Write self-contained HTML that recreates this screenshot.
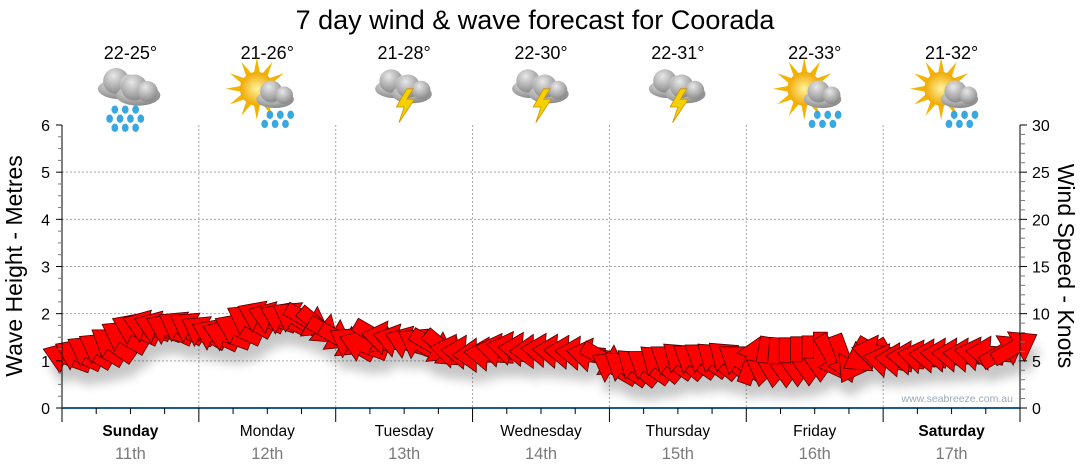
<!DOCTYPE html>
<html><head><meta charset="utf-8"><style>
body{margin:0;background:#fff;width:1080px;height:475px;overflow:hidden;font-family:"Liberation Sans",sans-serif}
svg{display:block}
</style></head><body>
<svg id="chart" width="1080" height="475">
<defs>
<filter id="blur" x="-50%" y="-50%" width="200%" height="200%"><feGaussianBlur stdDeviation="5"/></filter>
<radialGradient id="cloudG" cx="40%" cy="30%" r="70%"><stop offset="0" stop-color="#e8e8e8"/><stop offset="1" stop-color="#8a8a8a"/></radialGradient>
<radialGradient id="sunG" cx="50%" cy="50%" r="50%"><stop offset="0" stop-color="#fff3a0"/><stop offset="1" stop-color="#f0a800"/></radialGradient>
</defs>
<text x="535" y="29" text-anchor="middle" font-size="27" fill="#000">7 day wind &amp; wave forecast for Coorada</text>
<g id="grid"></g>
<g id="header"></g>
<g id="shadow" filter="url(#blur)" opacity="0.22" transform="translate(4,14)"></g>
<g id="arrows"></g>
<g id="axes"></g>
<text x="1013" y="402" text-anchor="end" font-size="10.5" fill="#9aaabb">www.seabreeze.com.au</text>
<text transform="translate(22,266) rotate(-90)" text-anchor="middle" font-size="23" fill="#000">Wave Height - Metres</text>
<text transform="translate(1058,266) rotate(90)" text-anchor="middle" font-size="23" fill="#000">Wind Speed - Knots</text>
</svg>
<script>
const days=["Sunday","Monday","Tuesday","Wednesday","Thursday","Friday","Saturday"];
const dates=["11th","12th","13th","14th","15th","16th","17th"];
const boldDays=[true,false,false,false,false,false,true];
const temps=["22-25°","21-26°","21-28°","22-30°","22-31°","22-33°","21-32°"];
const icons=["rain","sunrain","storm","storm","storm","sunrain","sunshower"];
const leftTicks=[0,1,2,3,4,5,6];
const rightTicks=[0,5,10,15,20,25,30];
const windKnots=[5.3,5.6,5.9,6.2,6.7,7.5,8.3,8.6,8.5,8.3,8.5,8.4,
8.0,7.7,7.7,8.3,9.2,9.6,9.5,9.4,9.5,9.3,8.7,7.9,
7.2,6.8,6.6,7.6,7.4,7.1,6.9,6.7,6.6,6.3,6.0,5.9,
5.6,5.7,6.1,6.3,6.2,6.0,6.1,6.0,5.9,5.8,5.6,5.2,
4.2,4.2,4.3,4.4,4.7,4.9,5.0,5.0,5.1,5.0,5.1,4.9,
5.0,5.0,4.9,4.9,5.0,5.1,5.5,5.4,5.3,5.1,5.6,5.9,
5.0,5.1,5.3,5.4,5.5,5.6,5.6,5.6,5.7,5.8,6.0,6.4];
const windDir=[110,115,120,120,125,120,115,110,110,115,120,120,
120,115,110,115,120,115,110,115,120,300,310,300,
300,120,110,300,100,105,110,120,300,310,100,95,
90,95,100,100,95,90,95,95,95,95,100,300,
120,125,130,125,130,125,130,125,125,130,130,125,
200,10,5,0,0,0,0,330,340,30,60,100,
100,95,95,100,95,95,95,95,100,95,240,240];

const X0=62,X1=1020,Y0=408,Y1=125,NS="http://www.w3.org/2000/svg";
const dayW=(X1-X0)/7;
function xT(i){return X0+(i+0.5)*(X1-X0)/windKnots.length;}
function yM(m){return Y0-(m/6)*(Y0-Y1);}
function yK(k){return Y0-(k/30)*(Y0-Y1);}
function el(tag,attrs,parent){const e=document.createElementNS(NS,tag);for(const k in attrs)e.setAttribute(k,attrs[k]);parent.appendChild(e);return e;}

const grid=document.getElementById('grid'),axes=document.getElementById('axes'),header=document.getElementById('header');
for(const m of leftTicks){if(m===0||m===6)continue;const l=el('line',{x1:X0,x2:X1,y1:yM(m),y2:yM(m),stroke:'#a8a8a8','stroke-dasharray':'2,2'},grid);

}
for(let d=1;d<7;d++){const l=el('line',{x1:X0+d*dayW,x2:X0+d*dayW,y1:Y1,y2:Y0,stroke:'#a8a8a8','stroke-dasharray':'2,2'},grid);

}
el('line',{x1:X0,x2:X0,y1:Y1,y2:Y0,stroke:'#000'},axes);
el('line',{x1:X1,x2:X1,y1:Y1,y2:Y0,stroke:'#000'},axes);
el('line',{x1:X0,x2:X1,y1:Y0,y2:Y0,stroke:'#1b5a8a','stroke-width':2},axes);
for(let m=0;m<=24;m++){const y=Y0-m*(Y0-Y1)/24;el('line',{x1:X0-(m%4?4:6),x2:X0,y1:y,y2:y,stroke:m%4?'#777':'#000'},axes);}
for(let k=0;k<=30;k++){const y=yK(k);el('line',{x1:X1,x2:X1+(k%5?5:7),y1:y,y2:y,stroke:k%5?'#777':'#000'},axes);}
for(const m of leftTicks){const t=el('text',{x:X0-12,y:yM(m)+6,'text-anchor':'end','font-size':16,fill:'#000'},axes);t.textContent=m;

}
for(const k of rightTicks){const t=el('text',{x:X1+12,y:yK(k)+6,'font-size':16,fill:'#000'},axes);t.textContent=k;

}
for(let q=0;q<=28;q++){const x=X0+q*dayW/4;el('line',{x1:x,x2:x,y1:Y0,y2:Y0+(q%4?6:14),stroke:'#000'},axes);}
function drawIcon(g,type,cx,cy){
  if(type==='sunrain'||type==='sunshower'){
    for(let a=0;a<360;a+=30){const r=a*Math.PI/180;el('polygon',{points:`${cx-8+Math.cos(r)*24},${cy-4+Math.sin(r)*24} ${cx-8+Math.cos(r+0.2)*12},${cy-4+Math.sin(r+0.2)*12} ${cx-8+Math.cos(r-0.2)*12},${cy-4+Math.sin(r-0.2)*12}`,fill:'#f2b400'},g);}
    el('circle',{cx:cx-8,cy:cy-4,r:13,fill:'url(#sunG)'},g);
  }
  const clouds=type==='rain'?[[-8,-8,1],[6,-3,1]]:type==='storm'?[[-7,-8,0.9],[6,-4,0.9]]:[[6,0,0.85]];
  for(const [dx,dy,s] of clouds){
    el('ellipse',{cx:cx+dx,cy:cy+dy+4,rx:17*s,ry:8*s,fill:'url(#cloudG)'},g);
    el('circle',{cx:cx+dx-3,cy:cy+dy-2,r:10*s,fill:'url(#cloudG)'},g);
    el('circle',{cx:cx+dx+7,cy:cy+dy+1,r:8*s,fill:'url(#cloudG)'},g);
  }
  if(type==='storm'){
    el('polygon',{points:`${cx+2},${cy-4} ${cx-6},${cy+10} ${cx},${cy+10} ${cx-4},${cy+22} ${cx+8},${cy+4} ${cx+2},${cy+4} ${cx+7},${cy-4}`,fill:'#f5d000',stroke:'#d09000','stroke-width':0.6},g);
  } else {
    const drops=type==='rain'?[[-16,8],[-8,8],[0,8],[-20,15],[-12,15],[-4,15],[4,15],[-16,22],[-8,22],[0,22]]:[[-2,12],[6,12],[14,12],[-6,19],[2,19],[10,19]];
    for(const [dx,dy] of drops)el('ellipse',{cx:cx+dx+4,cy:cy+dy+4,rx:2.6,ry:3.2,fill:'#3aa8e0'},g);
  }
}
for(let d=0;d<7;d++){
  const cx=X0+(d+0.5)*dayW;
  const t=el('text',{x:cx,y:59,'text-anchor':'middle','font-size':18,fill:'#000'},header);t.textContent=temps[d];
  
  
  const g=el('g',{transform:`translate(${cx},94) scale(1.3) translate(${-cx},-92)`},header);
  
  
  drawIcon(g,icons[d],cx,92);
  const a=el('text',{x:cx,y:436,'text-anchor':'middle','font-size':15.5,'font-weight':boldDays[d]?'bold':'normal',fill:'#000'},axes);a.textContent=days[d];
  
  
  const b=el('text',{x:cx,y:459,'text-anchor':'middle','font-size':16.5,fill:'#7a7a7a'},axes);b.textContent=dates[d];
  
  
}
const arrows=document.getElementById('arrows'),shadow=document.getElementById('shadow');
const shape="-24,-7 2,-7 2,-17 26,0 2,17 2,7 -24,7";
for(let i=0;i<windKnots.length;i++){
  const x=xT(i),y=yK(windKnots[i]);
  const ang=windDir[i]+90;
  const tr=`translate(${x.toFixed(1)},${y.toFixed(1)}) rotate(${ang})`;
  const s=el('polygon',{points:shape,transform:tr,fill:'#000'},shadow);
  
  
  const p=el('polygon',{points:shape,transform:tr,fill:'#ff0000',stroke:'#4a0000','stroke-width':0.8,'stroke-linejoin':'miter'},arrows);
  
  
}
</script>
</body></html>
